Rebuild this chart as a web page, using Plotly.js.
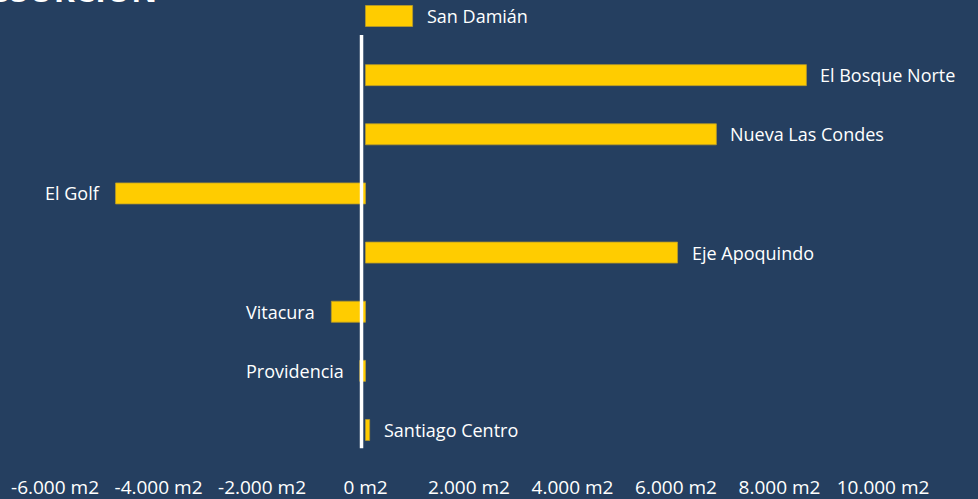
<!DOCTYPE html>
<html>
<head>
<meta charset="utf-8">
<script src="https://cdn.plot.ly/plotly-3.0.1.min.js"></script>
<style>html,body{margin:0;padding:0;background:#253f60;}#chart{width:978px;height:499px;}</style>
</head>
<body>
<div id="chart"></div>
<script>
// Data
const categories = ["San Damián", "El Bosque Norte", "Nueva Las Condes", "El Golf", "Eje Apoquindo", "Vitacura", "Providencia", "Santiago Centro"];
const absorcion = [910, 8520, 6780, -4830, 6030, -660, -110, 80];
const tickValues = [-6000, -4000, -2000, 0, 2000, 4000, 6000, 8000, 10000];
const tickLabels = ["-6.000 m2", "-4.000 m2", "-2.000 m2", "0 m2", "2.000 m2", "4.000 m2", "6.000 m2", "8.000 m2", "10.000 m2"];
const titleText = "ABSORCIÓN";

const BG = "#253f60";
const YELLOW = "#ffcc00";
const FONT = "Open Sans, sans-serif";

const trace = {
  type: "bar",
  orientation: "h",
  y: categories,
  x: absorcion,
  marker: {color: YELLOW, line: {color: "#b89a2a", width: 0.8}},
  hoverinfo: "skip"
};

const annotations = categories.map((c, i) => ({
  x: absorcion[i], y: c, xref: "x", yref: "y",
  text: c, showarrow: false,
  xanchor: absorcion[i] >= 0 ? "left" : "right",
  xshift: absorcion[i] >= 0 ? 12 : -14,
  font: {family: FONT, size: 18, color: "#ffffff"}
}));

annotations.push({
  text: "<b>" + titleText + "</b>", showarrow: false,
  xref: "paper", yref: "paper", x: 159 / 960, y: 1,
  xanchor: "right", yanchor: "bottom", yshift: -13,
  font: {family: FONT, size: 32, color: "#ffffff"}
});

const layout = {
  width: 978, height: 499,
  paper_bgcolor: BG, plot_bgcolor: BG,
  margin: {l: 0, r: 18, t: 0, b: 49},
  showlegend: false,
  bargap: 0.645,
  xaxis: {
    range: [-7063, 11488],
    tickvals: tickValues, ticktext: tickLabels,
    showgrid: false, zeroline: false, showline: false, ticks: "",
    ticklabelstandoff: 24,
    tickfont: {family: FONT, size: 19, color: "#ffffff"},
    fixedrange: true
  },
  yaxis: {
    type: "category",
    categoryorder: "array", categoryarray: categories,
    range: [7.338, -0.2705],
    showticklabels: false, showgrid: false, zeroline: false, showline: false, ticks: "",
    fixedrange: true
  },
  shapes: [{
    type: "line", xref: "x", yref: "paper",
    x0: -77, x1: -77, y0: 0.004, y1: 0.922,
    line: {color: "#ffffff", width: 3.5}
  }],
  annotations: annotations
};

Plotly.newPlot("chart", [trace], layout, {displayModeBar: false, staticPlot: true});
</script>
</body>
</html>
